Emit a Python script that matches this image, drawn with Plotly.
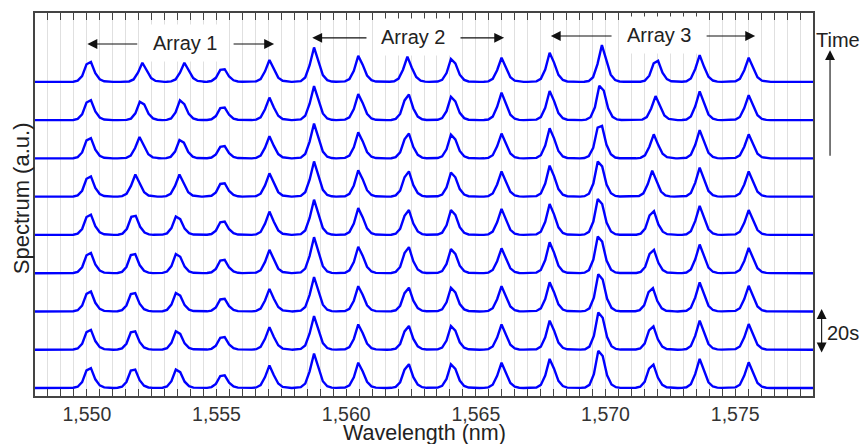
import numpy as np
import plotly.graph_objects as go

# Fifteen FBG reflection peaks, nine consecutive scans.
# Rows run from the latest scan (top trace) down to the earliest one.
peak_nm = [
    [1550.08, 1552.14, 1553.76, 1555.23, 1557.04, 1558.76, 1560.49, 1562.36, 1564.09, 1565.99, 1567.87, 1569.86, 1571.95, 1573.63, 1575.52],
    [1550.08, 1552.10, 1553.64, 1555.23, 1557.04, 1558.76, 1560.49, 1562.36, 1564.09, 1565.99, 1567.87, 1569.82, 1571.93, 1573.63, 1575.52],
    [1550.08, 1552.03, 1553.63, 1555.23, 1557.04, 1558.76, 1560.49, 1562.36, 1564.09, 1565.99, 1567.87, 1569.78, 1571.86, 1573.63, 1575.52],
    [1550.08, 1551.87, 1553.57, 1555.23, 1557.04, 1558.76, 1560.49, 1562.36, 1564.09, 1565.99, 1567.87, 1569.76, 1571.80, 1573.63, 1575.52],
    [1550.08, 1551.80, 1553.49, 1555.23, 1557.04, 1558.76, 1560.49, 1562.36, 1564.09, 1565.99, 1567.87, 1569.76, 1571.80, 1573.63, 1575.52],
    [1550.08, 1551.78, 1553.49, 1555.23, 1557.04, 1558.76, 1560.49, 1562.36, 1564.09, 1565.99, 1567.87, 1569.76, 1571.80, 1573.63, 1575.52],
    [1550.08, 1551.78, 1553.49, 1555.23, 1557.04, 1558.76, 1560.49, 1562.36, 1564.09, 1565.99, 1567.87, 1569.78, 1571.76, 1573.63, 1575.52],
    [1550.08, 1551.78, 1553.49, 1555.23, 1557.04, 1558.76, 1560.49, 1562.36, 1564.09, 1565.99, 1567.87, 1569.78, 1571.78, 1573.63, 1575.52],
    [1550.08, 1551.78, 1553.49, 1555.23, 1557.04, 1558.76, 1560.49, 1562.36, 1564.09, 1565.99, 1567.87, 1569.78, 1571.78, 1573.63, 1575.52],
]

# Peak amplitudes (a.u., one unit = spacing between stacked scans)
peak_amp = [
    [0.52, 0.50, 0.50, 0.33, 0.57, 0.90, 0.68, 0.66, 0.60, 0.63, 0.76, 0.96, 0.55, 0.70, 0.63],
    [0.52, 0.48, 0.52, 0.33, 0.59, 0.89, 0.68, 0.67, 0.61, 0.72, 0.76, 0.90, 0.63, 0.75, 0.65],
    [0.53, 0.56, 0.48, 0.32, 0.58, 0.91, 0.68, 0.65, 0.62, 0.65, 0.79, 0.85, 0.63, 0.74, 0.63],
    [0.53, 0.58, 0.58, 0.35, 0.61, 0.92, 0.69, 0.66, 0.63, 0.66, 0.81, 0.92, 0.68, 0.76, 0.66],
    [0.53, 0.50, 0.48, 0.35, 0.61, 0.92, 0.70, 0.65, 0.65, 0.68, 0.81, 0.94, 0.62, 0.76, 0.65],
    [0.53, 0.50, 0.50, 0.35, 0.61, 0.94, 0.69, 0.68, 0.63, 0.65, 0.81, 0.96, 0.61, 0.75, 0.66],
    [0.52, 0.48, 0.48, 0.33, 0.59, 0.90, 0.66, 0.62, 0.62, 0.66, 0.76, 0.97, 0.61, 0.76, 0.67],
    [0.52, 0.48, 0.48, 0.33, 0.59, 0.88, 0.66, 0.62, 0.62, 0.66, 0.76, 0.97, 0.61, 0.76, 0.67],
    [0.52, 0.48, 0.48, 0.33, 0.59, 0.90, 0.66, 0.62, 0.62, 0.66, 0.76, 0.97, 0.61, 0.76, 0.67],
]

# Offset of the OSA sampling grid relative to each peak centre (in samples)
grid_phase = [
    [0.45, 0.00, 0.00, 0.50, 0.00, 0.00, -0.15, 0.00, -0.30, 0.00, -0.15, 0.00, 0.45, 0.00, 0.00],
    [0.45, -0.35, -0.30, 0.50, 0.00, 0.00, -0.15, 0.35, -0.30, 0.00, -0.15, -0.35, 0.00, 0.00, 0.00],
    [0.45, 0.00, -0.35, 0.50, 0.00, 0.00, -0.15, 0.35, -0.30, 0.00, -0.15, 0.50, 0.00, 0.00, 0.00],
    [0.45, 0.00, 0.00, 0.50, 0.00, 0.00, -0.15, 0.35, -0.30, 0.00, -0.15, -0.35, 0.00, 0.00, 0.00],
    [0.45, 0.50, -0.35, 0.50, 0.00, 0.00, -0.15, 0.35, -0.30, 0.00, -0.15, -0.35, 0.40, 0.00, 0.00],
    [0.45, 0.50, -0.35, 0.50, 0.00, 0.00, -0.15, 0.35, -0.30, 0.00, -0.15, -0.35, 0.40, 0.00, 0.00],
    [0.45, 0.50, -0.35, 0.50, 0.00, 0.00, -0.15, 0.35, -0.30, 0.00, -0.15, -0.35, 0.40, 0.00, 0.00],
    [0.45, 0.50, -0.35, 0.50, 0.00, 0.00, -0.15, 0.35, -0.30, 0.00, -0.15, -0.35, 0.40, 0.00, 0.00],
    [0.45, 0.50, -0.35, 0.50, 0.00, 0.00, -0.15, 0.35, -0.30, 0.00, -0.15, -0.35, 0.40, 0.00, 0.00],
]

wl_range = [1548, 1578]
tick_values = [1550, 1555, 1560, 1565, 1570, 1575]
tick_labels = ["1,550", "1,555", "1,560", "1,565", "1,570", "1,575"]

SAMPLE_NM = 0.17          # OSA sample spacing
WIDTH_L, WIDTH_R, EXPO = 0.21, 0.245, 1.5


def profile(d):
    w = np.where(d < 0, WIDTH_L, WIDTH_R)
    return np.exp(-(np.abs(d) / w) ** EXPO)


def spectrum(centres, amps, phases):
    xs, ys = [wl_range[0]], [0.0]
    for c, a, ph in zip(centres, amps, phases):
        k = np.arange(-5, 6) + ph
        d = k * SAMPLE_NM
        v = profile(d)
        v = a * v / v.max()
        xs.extend(c + d)
        ys.extend(v)
    xs.append(wl_range[1])
    ys.append(0.0)
    return np.array(xs), np.array(ys)


fig = go.Figure()
n_scans = len(peak_nm)
for row in range(n_scans):
    level = n_scans - 1 - row          # top row is the latest scan
    x, y = spectrum(peak_nm[row], peak_amp[row], grid_phase[row])
    fig.add_trace(go.Scatter(
        x=x, y=y + level, mode="lines",
        line=dict(color="#0000ff", width=2.4),
        hoverinfo="skip", showlegend=False,
    ))

FONT = "Liberation Sans, Arial, sans-serif"
AXC = "#444444"
GRID = "#e0e0e0"
TXT = "#222222"

fig.update_layout(
    width=863, height=444,
    margin=dict(l=35, r=50, t=13, b=48),
    paper_bgcolor="white", plot_bgcolor="white",
    font=dict(family=FONT, size=20, color=TXT),
    xaxis=dict(
        range=wl_range,
        tickmode="array", tickvals=tick_values, ticktext=tick_labels,
        ticks="inside", ticklen=7, tickwidth=1.2, tickcolor=AXC,
        tickfont=dict(size=19.5, color="#333333"),
        showline=True, linecolor=AXC, linewidth=1.5, mirror="ticks",
        showgrid=True, gridcolor=GRID, gridwidth=1.2, zeroline=False,
        minor=dict(tick0=1548, dtick=0.5, ticks="inside", ticklen=7,
                   tickwidth=1.2, tickcolor=AXC, showgrid=True,
                   gridcolor=GRID, gridwidth=1.2),
        automargin=False,
    ),
    yaxis=dict(
        range=[-0.21, 9.80],
        showticklabels=False, ticks="", showgrid=False, zeroline=False,
        showline=True, linecolor=AXC, linewidth=1.5, mirror=True,
        automargin=False,
    ),
)

# Axis titles
fig.add_annotation(x=0.5, y=-0.0962, xref="paper", yref="paper",
                   text="Wavelength (nm)", showarrow=False,
                   xanchor="center", yanchor="middle",
                   font=dict(size=21.5, color=TXT))
fig.add_annotation(x=-0.0165, y=0.517, xref="paper", yref="paper",
                   text="Spectrum (a.u.)", showarrow=False, textangle=-90,
                   xanchor="center", yanchor="middle",
                   font=dict(size=22, color=TXT))

# Array labels with span arrows
arrays = [
    ("Array 1", 1553.77, 9.02, 1552.0, 1550.02, 1555.6, 1557.22),
    ("Array 2", 1562.56, 9.18, 1560.84, 1558.69, 1564.35, 1566.09),
    ("Array 3", 1572.08, 9.23, 1570.29, 1567.89, 1573.84, 1575.77),
]
for name, xc, yc, l_tail, l_tip, r_tail, r_tip in arrays:
    fig.add_annotation(x=xc, y=yc, text=name, showarrow=False,
                       bgcolor="white", borderpad=7,
                       xanchor="center", yanchor="middle",
                       font=dict(size=20, color=TXT))
    for tail, tip in ((l_tail, l_tip), (r_tail, r_tip)):
        fig.add_annotation(x=tip, y=yc - 0.03, ax=tail, ay=yc - 0.03,
                           xref="x", yref="y", axref="x", ayref="y",
                           text="", showarrow=True, arrowhead=2,
                           arrowsize=1.8, arrowwidth=1.1, arrowcolor="#111111")

# Time direction and scan interval markers (tail offsets in pixels)
fig.add_annotation(x=1.0219, y=0.903, ax=0, ay=107,
                   xref="paper", yref="paper", axref="pixel", ayref="pixel",
                   text="", showarrow=True, arrowhead=2, arrowsize=1.8,
                   arrowwidth=1.1, arrowcolor="#111111")
fig.add_annotation(x=1.032, y=0.9295, xref="paper", yref="paper",
                   text="Time", showarrow=False,
                   xanchor="center", yanchor="middle",
                   font=dict(size=20, color=TXT))
fig.add_annotation(x=1.0111, y=0.2272, ax=0, ay=45,
                   xref="paper", yref="paper", axref="pixel", ayref="pixel",
                   text="", showarrow=True, arrowhead=2, startarrowhead=2,
                   arrowside="end+start", arrowsize=1.8, startarrowsize=1.8,
                   arrowwidth=1.1, arrowcolor="#111111")
fig.add_annotation(x=1.0386, y=0.1645, xref="paper", yref="paper",
                   text="20s", showarrow=False,
                   xanchor="center", yanchor="middle",
                   font=dict(size=20, color=TXT))

fig.write_html("out.html")
